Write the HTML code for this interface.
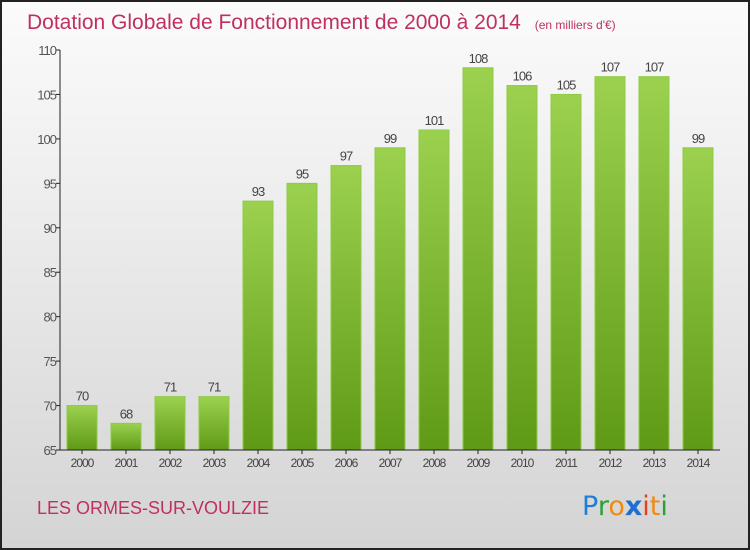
<!DOCTYPE html>
<html><head><meta charset="utf-8"><style>
body{margin:0;}
#wrap{position:relative;width:746px;height:546px;border:2px solid #222;background:linear-gradient(#fbfbfb,#f0f0f0 30%,#d4d4d4 100%);font-family:"Liberation Sans",sans-serif;overflow:hidden;}
svg{position:absolute;left:-2px;top:-2px;}
</style></head><body>
<div id="wrap">
<svg id="c" width="750" height="550">
<defs><linearGradient id="g" x1="0" y1="0" x2="0" y2="1"><stop offset="0" stop-color="#9bd14f"/><stop offset="1" stop-color="#5f9a16"/></linearGradient></defs>
<text x="27" y="29" font-size="21" fill="#c0305e">Dotation Globale de Fonctionnement de 2000 à 2014 <tspan font-size="12" dx="8">(en milliers d'€)</tspan></text>
<text x="37" y="514" font-size="18" fill="#c0305e">LES ORMES-SUR-VOULZIE</text>
<text x="582" y="515" font-size="27" font-family="'DejaVu Sans',sans-serif"><tspan fill="#1e7fd6">P</tspan><tspan fill="#2aa035">r</tspan><tspan fill="#f08a10">o</tspan><tspan fill="#1e6fd0" font-weight="bold">x</tspan><tspan fill="#e8401a">i</tspan><tspan fill="#f08a10">t</tspan><tspan fill="#2aa035">i</tspan></text>
<g id="plot"></g>
</svg></div>
<script>
const years=["2000","2001","2002","2003","2004","2005","2006","2007","2008","2009","2010","2011","2012","2013","2014"];
const values=[70,68,71,71,93,95,97,99,101,108,106,105,107,107,99];
const ticks=[65,70,75,80,85,90,95,100,105,110];
const NS="http://www.w3.org/2000/svg",g=document.getElementById('plot');
const y=v=>450-(v-65)*400/45, x=i=>82+i*44;
function mk(t,a,txt){const e=document.createElementNS(NS,t);for(const k in a)e.setAttribute(k,a[k]);if(txt!=null)e.textContent=txt;g.appendChild(e);return e;}
ticks.forEach(t=>{
 const l=mk('line',{x1:56,x2:60,y1:y(t),y2:y(t),stroke:'#222'});
 
 
 const s=mk('text',{x:56,y:y(t)+5,'font-size':13,fill:'#555','text-anchor':'end','letter-spacing':'-1'},t);
 
 
});
values.forEach((v,i)=>{
 const r=mk('rect',{x:x(i)-15,y:y(v),width:30,height:450-y(v),fill:'url(#g)',stroke:'#8fcb45','stroke-width':1});
 
 
 const t=mk('text',{x:x(i),y:y(v)-5,'font-size':13,fill:'#444','text-anchor':'middle','letter-spacing':'-1'},v);
 
 
 const tk=mk('line',{x1:x(i),x2:x(i),y1:450,y2:454,stroke:'#222'});
 
 
 const xl=mk('text',{x:x(i),y:467,'font-size':12,fill:'#444','text-anchor':'middle','letter-spacing':'-1'},years[i]);
 
 
});
const ya=mk('line',{x1:60,x2:60,y1:50,y2:450,stroke:'#222'});


const xa=mk('line',{x1:60,x2:720,y1:450,y2:450,stroke:'#222'});


</script>
</body></html>
